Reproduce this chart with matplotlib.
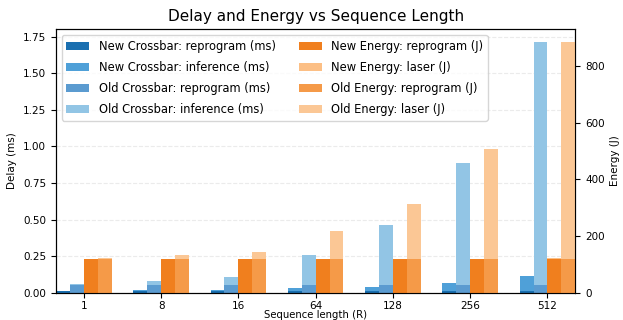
import numpy as np
import matplotlib
matplotlib.use("Agg")
import matplotlib.pyplot as plt

seq_lengths = ["1", "8", "16", "64", "128", "256", "512"]

new_reprog_ms = [0.010, 0.010, 0.010, 0.010, 0.010, 0.010, 0.010]
new_infer_ms = [0.004, 0.006, 0.008, 0.020, 0.031, 0.054, 0.107]
old_reprog_ms = [0.055, 0.055, 0.055, 0.055, 0.055, 0.055, 0.055]
old_infer_ms = [0.002, 0.025, 0.050, 0.205, 0.410, 0.830, 1.660]

new_reprog_J = [119, 119, 119, 119, 119, 119, 119]
new_laser_J = [0.2, 0.3, 0.4, 0.6, 0.9, 1.5, 2.5]
old_reprog_J = [119, 119, 119, 119, 119, 119, 119]
old_laser_J = [2, 13, 26, 99, 194, 387, 766]

c_new_rep = "#1a6fb0"
c_new_inf = "#4fa0d8"
c_old_rep = "#5b9bd0"
c_old_inf = "#92c5e5"
c_new_erep = "#f07f1e"
c_new_las = "#fcbf85"
c_old_erep = "#f59a48"
c_old_las = "#fbc795"

fig = plt.figure(figsize=(6.23, 3.2), dpi=100)
ax = fig.add_axes([0.0899, 0.0853, 0.9234 - 0.0899, 0.9084 - 0.0853])
ax2 = ax.twinx()

x = np.arange(len(seq_lengths))
w = 0.18

b1 = ax.bar(x - 1.5 * w, new_reprog_ms, w, color=c_new_rep, label="New Crossbar: reprogram (ms)")
b2 = ax.bar(x - 1.5 * w, new_infer_ms, w, bottom=new_reprog_ms, color=c_new_inf, label="New Crossbar: inference (ms)")
b3 = ax.bar(x - 0.5 * w, old_reprog_ms, w, color=c_old_rep, label="Old Crossbar: reprogram (ms)")
b4 = ax.bar(x - 0.5 * w, old_infer_ms, w, bottom=old_reprog_ms, color=c_old_inf, label="Old Crossbar: inference (ms)")

e1 = ax2.bar(x + 0.5 * w, new_reprog_J, w, color=c_new_erep, label="New Energy: reprogram (J)")
e2 = ax2.bar(x + 0.5 * w, new_laser_J, w, bottom=new_reprog_J, color=c_new_las, label="New Energy: laser (J)")
e3 = ax2.bar(x + 1.5 * w, old_reprog_J, w, color=c_old_erep, label="Old Energy: reprogram (J)")
e4 = ax2.bar(x + 1.5 * w, old_laser_J, w, bottom=old_reprog_J, color=c_old_las, label="Old Energy: laser (J)")

ax.set_xlim(-2 * w, len(seq_lengths) - 1 + 2 * w)
ax.set_xticks(x)
ax.set_xticklabels(seq_lengths)
ax.set_yticks(np.arange(0, 1.76, 0.25))
ax2.set_yticks([0, 200, 400, 600, 800])
ax.tick_params(labelsize=7.5)
ax.tick_params(axis="x", pad=2.5)
ax2.tick_params(labelsize=7.5)
ax.set_ylabel("Delay (ms)", fontsize=7.5)
ax2.set_ylabel("Energy (J)", fontsize=7.5)
ax.set_xlabel("Sequence length (R)", fontsize=7.3, labelpad=-0.5)
ax.set_title("Delay and Energy vs Sequence Length", fontsize=11)
ax.yaxis.grid(True, linestyle="--", alpha=0.25)
ax.set_axisbelow(True)

handles = [b1, b2, b3, b4, e1, e2, e3, e4]
ax.legend(handles, [h.get_label() for h in handles], loc="upper left", ncol=2,
          fontsize=8.3, labelspacing=0.7)
ax2.set_zorder(0)

fig.savefig("out.png", dpi=100)
